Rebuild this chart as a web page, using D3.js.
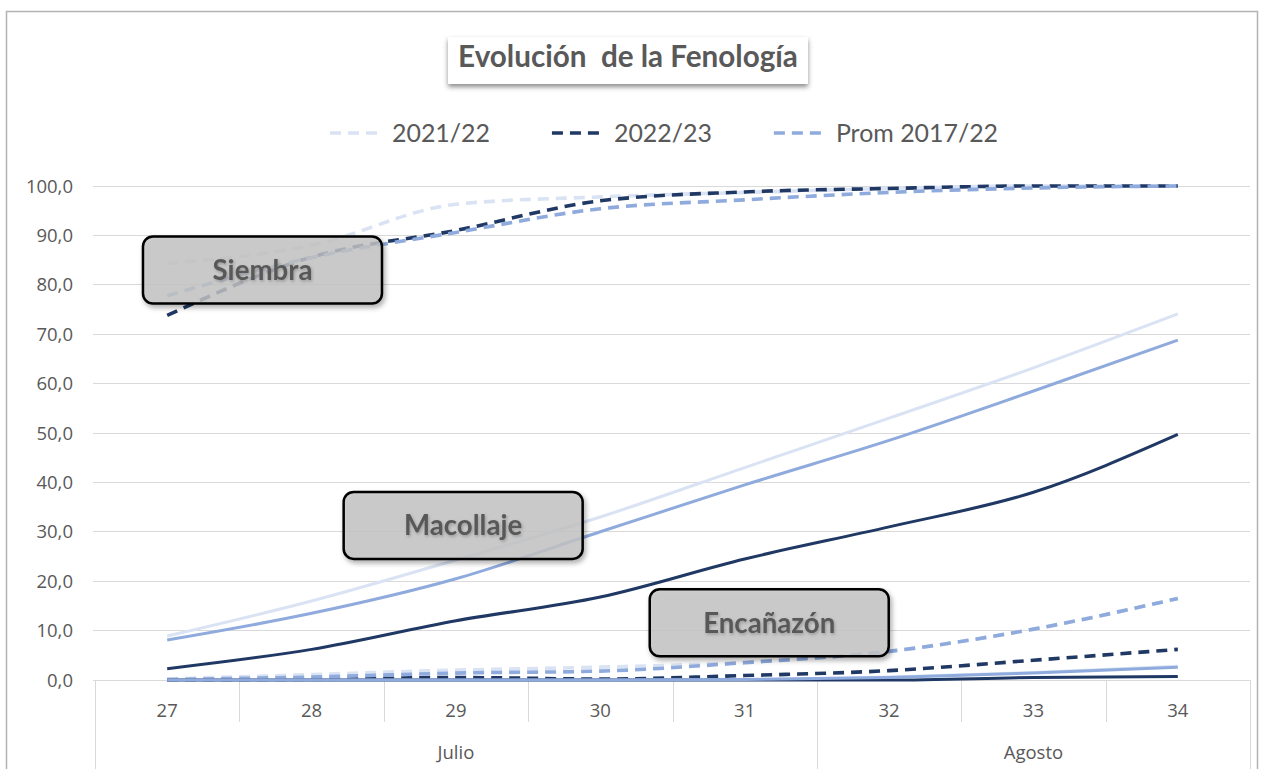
<!DOCTYPE html>
<html><head><meta charset="utf-8">
<script src="https://cdn.jsdelivr.net/npm/d3@7"></script>
<style>body{margin:0;background:#fff;overflow:hidden} svg{display:block}</style>
</head><body><svg id="c" width="1262" height="769"></svg>
<script>
// ---------- DATA ----------
const weeks = ["27","28","29","30","31","32","33","34"];
const monthNames = ["Julio","Agosto"];
const monthFirstWeek = ["27","32"];
const monthLastWeek = ["31","34"];
const yTicks = [0,10,20,30,40,50,60,70,80,90,100];
const seriesNames = ["2021/22","2022/23","Prom 2017/22"];
const titleText = "Evolución  de la Fenología";

// Siembra (dashed)
const siembra2122 = [84.3, 88.0, 96.3, 97.8, 98.7, 99.5, 100, 100];
const siembra2223 = [73.8, 85.6, 91.0, 97.0, 98.8, 99.5, 100, 100];
const siembraProm = [77.8, 85.5, 90.6, 95.4, 97.2, 98.7, 99.6, 100];
// Macollaje (solid)
const macollaje2122 = [8.9, 16.0, 24.3, 33.0, 43.0, 53.0, 63.2, 74.1];
const macollaje2223 = [2.3, 6.2, 12.0, 16.8, 24.5, 31.0, 38.0, 49.7];
const macollajeProm = [8.1, 13.5, 20.5, 30.0, 39.5, 48.5, 58.5, 68.8];
// Encañazón (dashed)
const encanazon2122 = [0.2, 1.1, 2.0, 2.6, 3.6, 5.8, 10.3, 16.5];
const encanazon2223 = [0.0, 0.1, 0.5, 0.2, 0.9, 1.9, 4.0, 6.2];
const encanazonProm = [0.1, 0.6, 1.4, 1.8, 3.5, 5.8, 10.3, 16.5];
// Fase siguiente (solid, sin rótulo)
const fase4_2122 = [0, 0, 0, 0, 0.1, 0.6, 1.5, 2.8];
const fase4_2223 = [0, 0, 0, 0, 0, 0, 0.5, 0.7];
const fase4Prom  = [0, 0, 0, 0, 0.1, 0.5, 1.4, 2.6];

// Annotation labels: position as (week index, value)
const annotLabels = ["Siembra","Macollaje","Encañazón"];
const annotWeekIdx = [0.66, 2.05, 4.17];
const annotValue = [83.0, 31.3, 11.6];

// ---------- STYLE ----------
const colors = ["#dae3f3","#203864","#8faadc"];
const txt = "#595959";
const grid = "#d9d9d9";

const svg = d3.select("#c");
const defs = svg.append("defs");
const sh = defs.append("filter").attr("id","shadow").attr("x","-20%").attr("y","-30%").attr("width","150%").attr("height","180%");
sh.append("feDropShadow").attr("dx",2).attr("dy",3).attr("stdDeviation",2.5).attr("flood-color","#000").attr("flood-opacity",0.35);
const tsh = defs.append("filter").attr("id","tshadow").attr("x","-10%").attr("y","-30%").attr("width","130%").attr("height","170%");
tsh.append("feDropShadow").attr("dx",1).attr("dy",1.5).attr("stdDeviation",1.5).attr("flood-color","#000").attr("flood-opacity",0.25);
const ttl = defs.append("filter").attr("id","tbox").attr("x","-10%").attr("y","-30%").attr("width","130%").attr("height","180%");
ttl.append("feDropShadow").attr("dx",0).attr("dy",3).attr("stdDeviation",2.5).attr("flood-color","#000").attr("flood-opacity",0.45);

function fitSize(str, family, weight, target, base) {
  const t = svg.append("text").attr("font-family",family).attr("font-weight",weight)
    .attr("font-size",base).style("white-space","pre").text(str);
  const w = t.node().getComputedTextLength(); t.remove();
  return base*target/w;
}

// frame
svg.append("rect").attr("x",6.5).attr("y",11.5).attr("width",1251).attr("height",800)
  .attr("fill","#fff").attr("stroke","#b3b3b3").attr("stroke-width",1.5);

// scales
const x = d3.scaleBand().domain(weeks).range([95,1250]).padding(0);
const bw = x.bandwidth();
const cx = w => x(w) + bw/2;
const xi = i => x.range()[0] + (i+0.5)*bw;
const y = d3.scaleLinear().domain([0,100]).range([680,186]);

// gridlines & y labels
const yFont = "Open Sans";
svg.append("g").selectAll("line").data(yTicks).join("line")
  .attr("x1",93).attr("x2",1250).attr("y1",d=>y(d)).attr("y2",d=>y(d))
  .attr("stroke",grid).attr("stroke-width",1).attr("shape-rendering","crispEdges");
const fmt = d3.format(".1f");
svg.append("g").selectAll("text").data(yTicks).join("text")
  .attr("x",73).attr("y",d=>y(d)+6.5).attr("text-anchor","end")
  .attr("font-family",yFont).attr("font-size",18.5).attr("fill",txt)
  .text(d=>fmt(d).replace(".",","));

// x axis category boundaries
const monthBounds = new Set();
monthFirstWeek.forEach(w=>monthBounds.add(Math.round(x(w))));
monthLastWeek.forEach(w=>monthBounds.add(Math.round(x(w)+bw)));
const bounds = weeks.map(w=>x(w)).concat([x(weeks[weeks.length-1])+bw]);
svg.append("g").selectAll("line").data(bounds).join("line")
  .attr("x1",d=>Math.round(d)+0.5).attr("x2",d=>Math.round(d)+0.5)
  .attr("y1",680).attr("y2",d=>monthBounds.has(Math.round(d))?769:722)
  .attr("stroke",grid).attr("stroke-width",1);
svg.append("g").selectAll("text").data(weeks).join("text")
  .attr("x",cx).attr("y",717).attr("text-anchor","middle")
  .attr("font-family",yFont).attr("font-size",18.5).attr("fill",txt).text(d=>d);
svg.append("g").selectAll("text").data(monthNames).join("text")
  .attr("x",(d,i)=>(x(monthFirstWeek[i]) + x(monthLastWeek[i]) + bw)/2).attr("y",759)
  .attr("text-anchor","middle").attr("font-family",yFont).attr("font-size",18.5).attr("fill",txt).text(d=>d);

// lines
const line = d3.line().x((d,i)=>cx(weeks[i])).y(d=>y(d)).curve(d3.curveMonotoneX);
const phases = [
  {vals:[siembra2122,siembra2223,siembraProm], dash:true},
  {vals:[macollaje2122,macollaje2223,macollajeProm], dash:false},
  {vals:[encanazon2122,encanazon2223,encanazonProm], dash:true},
  {vals:[fase4_2122,fase4_2223,fase4Prom], dash:false}
];
const lg = svg.append("g");
phases.forEach(p=>{
  p.vals.forEach((v,k)=>{
    lg.append("path").datum(v).attr("d",line).attr("fill","none")
      .attr("stroke",colors[k]).attr("stroke-width",p.dash?3.6:3)
      .attr("stroke-dasharray",p.dash?"11,7":null).attr("stroke-linejoin","round");
  });
});

// annotation boxes
const boxW = 239, boxH = 67;
const annFont = "Lato";
const annSize = fitSize("Siembra", annFont, 700, 100, 20);
annotLabels.forEach((lab,i)=>{
  const bx = xi(annotWeekIdx[i]), by = y(annotValue[i]);
  svg.append("rect").attr("x",bx-boxW/2).attr("y",by-boxH/2).attr("width",boxW).attr("height",boxH)
    .attr("rx",10).attr("fill","#c6c6c6").attr("fill-opacity",0.8)
    .attr("stroke","#000").attr("stroke-width",2.5).attr("filter","url(#shadow)");
  svg.append("text").attr("x",bx).attr("y",by+annSize*0.36).attr("text-anchor","middle")
    .attr("font-family",annFont).attr("font-weight",700).attr("font-size",annSize)
    .attr("fill",txt).attr("filter","url(#tshadow)").text(lab);
});

// title
const titleFont = "Lato";
const tSize = fitSize(titleText, titleFont, 700, 340, 24);
svg.append("rect").attr("x",448).attr("y",37).attr("width",360).attr("height",47)
  .attr("fill","#fff").attr("filter","url(#tbox)");
svg.append("text").attr("x",628).attr("y",67).attr("text-anchor","middle")
  .attr("font-family",titleFont).attr("font-weight",700).attr("font-size",tSize)
  .attr("fill",txt).style("white-space","pre").text(titleText);

// legend
const legFont = "Lato";
const legSize = fitSize("2021/22", legFont, 400, 98, 24);
let sx = 330;
seriesNames.forEach((nm,k)=>{
  svg.append("line").attr("x1",sx).attr("x2",sx+50).attr("y1",133).attr("y2",133)
    .attr("stroke",colors[k]).attr("stroke-width",3.6).attr("stroke-dasharray","11,7");
  const t = svg.append("text").attr("x",sx+62).attr("y",133+legSize*0.36)
    .attr("font-family",legFont).attr("font-size",legSize).attr("fill",txt).text(nm);
  sx = sx + 62 + t.node().getComputedTextLength() + 62;
});
</script></body></html>
